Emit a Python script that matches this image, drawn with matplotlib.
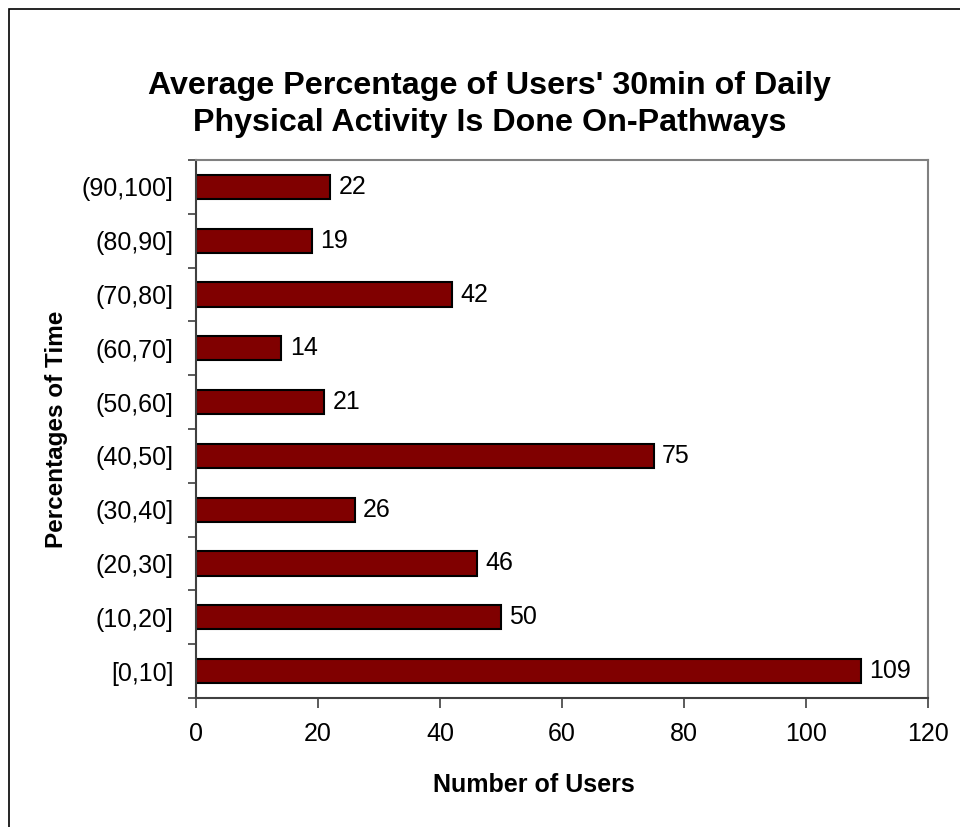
import matplotlib.pyplot as plt
from matplotlib.patches import Rectangle
from matplotlib.ticker import FixedLocator

categories = ["[0,10]", "(10,20]", "(20,30]", "(30,40]", "(40,50]",
              "(50,60]", "(60,70]", "(70,80]", "(80,90]", "(90,100]"]
users = [109, 50, 46, 26, 75, 21, 14, 42, 19, 22]
x_ticks = [0, 20, 40, 60, 80, 100, 120]

plt.rcParams["font.family"] = ["Liberation Sans", "DejaVu Sans"]

fig = plt.figure(figsize=(9.6, 8.27), dpi=100)
ax = fig.add_axes([0.204, 0.156, 0.763, 0.6505])

pos = list(range(len(categories)))
ax.barh(pos, users, height=0.45, color="#800000", edgecolor="black", lw=1.5)
for p, v in zip(pos, users):
    ax.annotate(str(v), (v, p), xytext=(6, 0), textcoords="offset points",
                va="center", ha="left", fontsize=18)

ax.set_xlim(0, 120)
ax.set_ylim(-0.5, len(categories) - 0.5)
ax.set_xticks(x_ticks)
ax.set_yticks(pos)
ax.set_yticklabels(categories)
ax.yaxis.set_minor_locator(FixedLocator([p + 0.5 for p in range(-1, len(categories))]))
ax.tick_params(axis="y", which="major", length=0, pad=16, labelsize=18)
ax.tick_params(axis="y", which="minor", length=6, width=1.2, color="#404040")
ax.tick_params(axis="x", length=7, width=1.2, color="#404040", pad=10, labelsize=18)

for side in ("top", "right"):
    ax.spines[side].set_color("#808080")
    ax.spines[side].set_linewidth(1.5)
for side in ("left", "bottom"):
    ax.spines[side].set_color("#404040")
    ax.spines[side].set_linewidth(1.5)

ax.set_xlabel("Number of Users", fontsize=18, fontweight="bold")
ax.xaxis.set_label_coords(0.462, -0.14)
ax.set_ylabel("Percentages of Time", fontsize=17.5, fontweight="bold", labelpad=10)

fig.text(0.51, 0.874, "Average Percentage of Users' 30min of Daily\n"
         "Physical Activity Is Done On-Pathways", ha="center", va="center",
         fontsize=23.2, fontweight="bold", linespacing=1.3)

fig.patches.append(Rectangle((9 / 960, -0.05), 1.1, 1 - 9 / 827 + 0.05,
                             transform=fig.transFigure, fill=False,
                             edgecolor="black", lw=1.2))

fig.savefig("out.png", dpi=100)
